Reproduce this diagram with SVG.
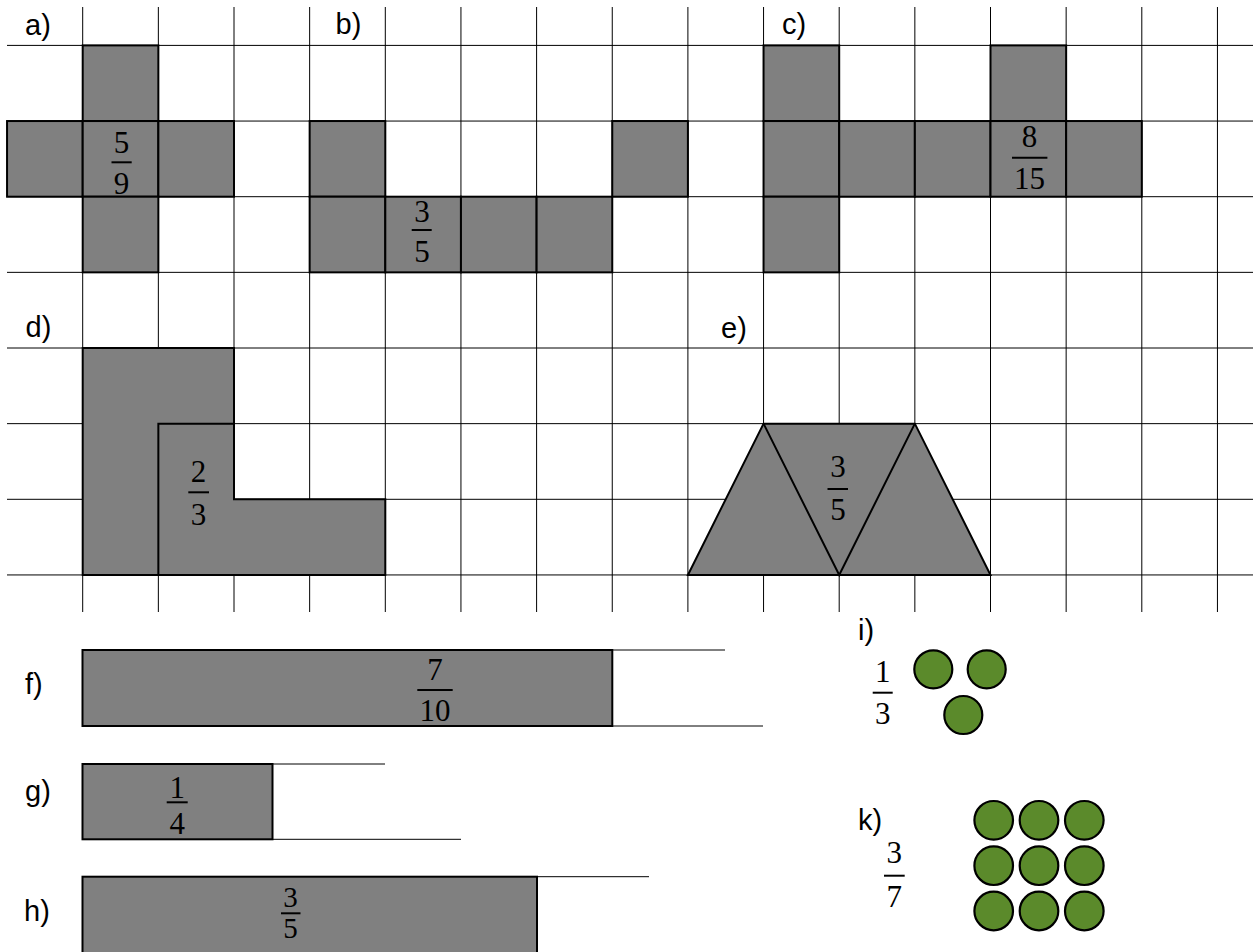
<svg xmlns="http://www.w3.org/2000/svg" width="1253" height="952" viewBox="0 0 1253 952">
<defs>
<style>
.grid line{stroke:#000;stroke-width:1}
.sh{fill:#808080;stroke:#000;stroke-width:2;stroke-linejoin:miter}
.in{fill:none;stroke:#000;stroke-width:2}
.ext{stroke:#000;stroke-width:1}
.lbl{font-family:"Liberation Sans",Arial,sans-serif;font-size:29px;fill:#000}
.fr{font-family:"Liberation Serif","Times New Roman",serif;font-size:31px;fill:#000;text-anchor:middle}
.fs{font-size:29px}
.bar{stroke:#000;stroke-width:2}
.dot{fill:#5b8a2b;stroke:#000;stroke-width:2.2}
</style>
</defs>
<rect width="1253" height="952" fill="#fff"/>
<g id="grid" class="grid">
<line x1="82.7" y1="7" x2="82.7" y2="612"/>
<line x1="158.35" y1="7" x2="158.35" y2="612"/>
<line x1="234" y1="7" x2="234" y2="612"/>
<line x1="309.65" y1="7" x2="309.65" y2="612"/>
<line x1="385.3" y1="7" x2="385.3" y2="612"/>
<line x1="460.95" y1="7" x2="460.95" y2="612"/>
<line x1="536.6" y1="7" x2="536.6" y2="612"/>
<line x1="612.25" y1="7" x2="612.25" y2="612"/>
<line x1="687.9" y1="7" x2="687.9" y2="612"/>
<line x1="763.55" y1="7" x2="763.55" y2="612"/>
<line x1="839.2" y1="7" x2="839.2" y2="612"/>
<line x1="914.85" y1="7" x2="914.85" y2="612"/>
<line x1="990.5" y1="7" x2="990.5" y2="612"/>
<line x1="1066.15" y1="7" x2="1066.15" y2="612"/>
<line x1="1141.8" y1="7" x2="1141.8" y2="612"/>
<line x1="1217.45" y1="7" x2="1217.45" y2="612"/>
<line x1="7" y1="45.4" x2="1253" y2="45.4"/>
<line x1="7" y1="121.05" x2="1253" y2="121.05"/>
<line x1="7" y1="196.7" x2="1253" y2="196.7"/>
<line x1="7" y1="272.35" x2="1253" y2="272.35"/>
<line x1="7" y1="348" x2="1253" y2="348"/>
<line x1="7" y1="423.65" x2="1253" y2="423.65"/>
<line x1="7" y1="499.3" x2="1253" y2="499.3"/>
<line x1="7" y1="574.95" x2="1253" y2="574.95"/>
</g>
<g id="a">
<text class="lbl" x="25" y="34.5">a)</text>
<rect class="sh" x="82.7" y="45.4" width="75.65" height="75.65"/>
<rect class="sh" x="7.05" y="121.05" width="75.65" height="75.65"/>
<rect class="sh" x="82.7" y="121.05" width="75.65" height="75.65"/>
<rect class="sh" x="158.35" y="121.05" width="75.65" height="75.65"/>
<rect class="sh" x="82.7" y="196.7" width="75.65" height="75.65"/>
<text class="fr" x="121.5" y="153">5</text>
<line class="bar" x1="111.5" y1="162.3" x2="131.7" y2="162.3"/>
<text class="fr" x="121.5" y="193.5">9</text>
</g>
<g id="b">
<text class="lbl" x="335.5" y="33.5">b)</text>
<rect class="sh" x="309.65" y="121.05" width="75.65" height="75.65"/>
<rect class="sh" x="309.65" y="196.7" width="75.65" height="75.65"/>
<rect class="sh" x="385.3" y="196.7" width="75.65" height="75.65"/>
<rect class="sh" x="460.95" y="196.7" width="75.65" height="75.65"/>
<rect class="sh" x="536.6" y="196.7" width="75.65" height="75.65"/>
<rect class="sh" x="612.25" y="121.05" width="75.65" height="75.65"/>
<text class="fr" x="422" y="221.7">3</text>
<line class="bar" x1="411.7" y1="230" x2="431.7" y2="230"/>
<text class="fr" x="422" y="262">5</text>
</g>
<g id="c">
<text class="lbl" x="782" y="33.5">c)</text>
<rect class="sh" x="763.55" y="45.4" width="75.65" height="75.65"/>
<rect class="sh" x="763.55" y="121.05" width="75.65" height="75.65"/>
<rect class="sh" x="763.55" y="196.7" width="75.65" height="75.65"/>
<rect class="sh" x="839.2" y="121.05" width="75.65" height="75.65"/>
<rect class="sh" x="914.85" y="121.05" width="75.65" height="75.65"/>
<rect class="sh" x="990.5" y="45.4" width="75.65" height="75.65"/>
<rect class="sh" x="990.5" y="121.05" width="75.65" height="75.65"/>
<rect class="sh" x="1066.15" y="121.05" width="75.65" height="75.65"/>
<text class="fr" x="1029.5" y="147">8</text>
<line class="bar" x1="1012" y1="157.7" x2="1047.4" y2="157.7"/>
<text class="fr" x="1029.5" y="188.5">15</text>
</g>
<g id="d">
<text class="lbl" x="25.5" y="337">d)</text>
<path class="sh" d="M82.7,348 H234 V499.3 H385.3 V574.95 H82.7 Z"/>
<path class="in" d="M158.35,574.95 V423.65 H234"/>
<text class="fr" x="198.5" y="482">2</text>
<line class="bar" x1="188.3" y1="492.3" x2="209" y2="492.3"/>
<text class="fr" x="198.5" y="525">3</text>
</g>
<g id="e">
<text class="lbl" x="721" y="337.5">e)</text>
<path class="sh" d="M687.9,574.95 L763.55,423.65 H914.85 L990.5,574.95 Z"/>
<path class="in" d="M763.55,423.65 L839.2,574.95 L914.85,423.65"/>
<text class="fr" x="838" y="477">3</text>
<line class="bar" x1="827.5" y1="489" x2="848" y2="489"/>
<text class="fr" x="838" y="519.5">5</text>
</g>
<g id="f">
<text class="lbl" x="25" y="694">f)</text>
<rect class="sh" x="82.5" y="650" width="529.8" height="76"/>
<line class="ext" x1="612.3" y1="650" x2="725" y2="650"/>
<line class="ext" x1="612.3" y1="726" x2="763" y2="726"/>
<text class="fr" x="435" y="679.5">7</text>
<line class="bar" x1="417.3" y1="690" x2="452.7" y2="690"/>
<text class="fr" x="435" y="721">10</text>
</g>
<g id="g">
<text class="lbl" x="25" y="800.5">g)</text>
<rect class="sh" x="82.5" y="764" width="190" height="75.3"/>
<line class="ext" x1="272.5" y1="764" x2="385" y2="764"/>
<line class="ext" x1="272.5" y1="839.3" x2="461" y2="839.3"/>
<text class="fr" x="177.3" y="797.5">1</text>
<line class="bar" x1="166.7" y1="802.3" x2="187.7" y2="802.3"/>
<text class="fr" x="177.3" y="833.5">4</text>
</g>
<g id="h">
<text class="lbl" x="24" y="920.5">h)</text>
<rect class="sh" x="82.5" y="876.7" width="454.5" height="100"/>
<line class="ext" x1="537" y1="876.7" x2="649" y2="876.7"/>
<text class="fr fs" x="290.5" y="907">3</text>
<line class="bar" x1="281" y1="913.3" x2="300.5" y2="913.3"/>
<text class="fr fs" x="290.5" y="938">5</text>
</g>
<g id="i">
<text class="lbl" x="858" y="640">i)</text>
<text class="fr" x="882.7" y="681.7">1</text>
<line class="bar" x1="872.7" y1="692.7" x2="892.7" y2="692.7"/>
<text class="fr" x="882.7" y="723.5">3</text>
<circle class="dot" cx="933.3" cy="669.3" r="19"/>
<circle class="dot" cx="986.7" cy="669.3" r="19"/>
<circle class="dot" cx="963.3" cy="715" r="19"/>
</g>
<g id="k">
<text class="lbl" x="858" y="830">k)</text>
<text class="fr" x="894.3" y="863.3">3</text>
<line class="bar" x1="884" y1="875.7" x2="904.7" y2="875.7"/>
<text class="fr" x="894.3" y="907">7</text>
<circle class="dot" cx="993.7" cy="820.3" r="19.3"/>
<circle class="dot" cx="1039" cy="820.3" r="19.3"/>
<circle class="dot" cx="1084.3" cy="820.3" r="19.3"/>
<circle class="dot" cx="993.7" cy="865.7" r="19.3"/>
<circle class="dot" cx="1039" cy="865.7" r="19.3"/>
<circle class="dot" cx="1084.3" cy="865.7" r="19.3"/>
<circle class="dot" cx="993.7" cy="911" r="19.3"/>
<circle class="dot" cx="1039" cy="911" r="19.3"/>
<circle class="dot" cx="1084.3" cy="911" r="19.3"/>
</g>
</svg>
